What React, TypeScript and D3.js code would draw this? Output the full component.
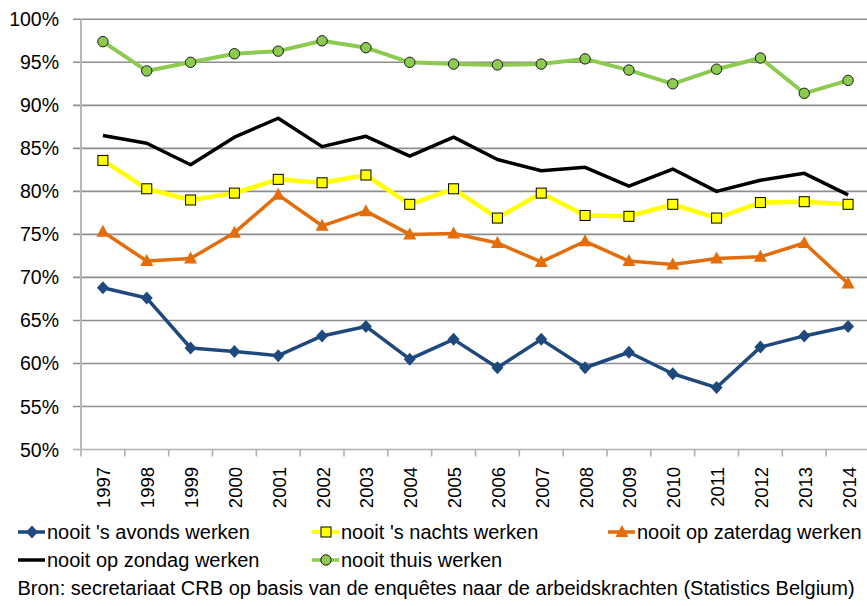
import { useEffect } from "react";
import * as d3 from "d3";

// Data
const years = [
  "1997", "1998", "1999", "2000", "2001", "2002", "2003", "2004", "2005",
  "2006", "2007", "2008", "2009", "2010", "2011", "2012", "2013", "2014",
];
const avonds = [68.8, 67.6, 61.8, 61.4, 60.9, 63.2, 64.3, 60.5, 62.8, 59.5, 62.8, 59.5, 61.3, 58.8, 57.2, 61.9, 63.2, 64.3];
const nachts = [83.6, 80.3, 79.0, 79.8, 81.4, 81.0, 81.9, 78.5, 80.3, 76.9, 79.8, 77.2, 77.1, 78.5, 76.9, 78.7, 78.8, 78.5];
const zaterdag = [75.3, 71.9, 72.2, 75.2, 79.6, 76.0, 77.7, 75.0, 75.1, 74.0, 71.8, 74.2, 71.9, 71.5, 72.2, 72.4, 74.0, 69.3];
const zondag = [86.5, 85.6, 83.1, 86.3, 88.5, 85.2, 86.4, 84.1, 86.3, 83.7, 82.4, 82.8, 80.6, 82.6, 80.0, 81.3, 82.1, 79.6];
const thuis = [97.4, 94.0, 95.0, 96.0, 96.3, 97.5, 96.7, 95.0, 94.8, 94.7, 94.8, 95.4, 94.1, 92.5, 94.2, 95.5, 91.4, 92.9];
const yTicks = [50, 55, 60, 65, 70, 75, 80, 85, 90, 95, 100];

interface Series {
  name: string;
  values: number[];
  color: string;
  width: number;
  marker: "diamond" | "square" | "triangle" | "none" | "circle";
  markerFill: string;
  markerStroke: string;
}

const series: Series[] = [
  { name: "nooit 's avonds werken", values: avonds, color: "#1F497D", width: 3.5, marker: "diamond", markerFill: "#1F497D", markerStroke: "#1F497D" },
  { name: "nooit 's nachts werken", values: nachts, color: "#FFFF00", width: 4.5, marker: "square", markerFill: "#FFFF00", markerStroke: "#000" },
  { name: "nooit op zaterdag werken", values: zaterdag, color: "#E46C0A", width: 3.5, marker: "triangle", markerFill: "#E46C0A", markerStroke: "#E46C0A" },
  { name: "nooit op zondag werken", values: zondag, color: "#000000", width: 3.5, marker: "none", markerFill: "#000", markerStroke: "#000" },
  { name: "nooit thuis werken", values: thuis, color: "#8CCB4F", width: 4, marker: "circle", markerFill: "#8CCB4F", markerStroke: "#1a1a1a" },
];

const Chart = () => {
  useEffect(() => {
    d3.select("#chart").select("svg").remove();

    const width = 867;
    const height = 606;
    const font = "'Liberation Sans', Arial, sans-serif";

    const svg = d3
      .select("#chart")
      .append("svg")
      .attr("width", width)
      .attr("height", height)
      .style("display", "block")
      .style("background", "#fff");

    const left = 81;
    const right = 870;
    const top = 19.3;
    const bottom = 449.5;

    const x = d3.scaleBand<string>().domain(years).range([left, right]);
    const y = d3.scaleLinear().domain([50, 100]).range([bottom, top]);
    const cx = (i: number) => (x(years[i]) as number) + x.bandwidth() / 2;

    // gridlines
    svg
      .append("g")
      .selectAll("line")
      .data(yTicks)
      .enter()
      .append("line")
      .attr("x1", left - 8)
      .attr("x2", width)
      .attr("y1", (d) => y(d))
      .attr("y2", (d) => y(d))
      .attr("stroke", (d) => (d === 50 ? "#b0b0b0" : "#8e8e8e"))
      .attr("stroke-width", 1.6);

    // y labels
    svg
      .append("g")
      .selectAll("text")
      .data(yTicks)
      .enter()
      .append("text")
      .attr("x", 59)
      .attr("y", (d) => y(d))
      .attr("dy", "0.36em")
      .attr("text-anchor", "end")
      .attr("font-family", font)
      .attr("font-size", 19.5)
      .attr("fill", "#000")
      .text((d) => `${d}%`);

    // y axis line
    svg
      .append("line")
      .attr("x1", left)
      .attr("x2", left)
      .attr("y1", top)
      .attr("y2", bottom)
      .attr("stroke", "#b8b8b8")
      .attr("stroke-width", 2);

    // x ticks
    const bounds = years.map((d) => x(d) as number).concat([right]);
    svg
      .append("g")
      .selectAll("line")
      .data(bounds)
      .enter()
      .append("line")
      .attr("x1", (d) => d)
      .attr("x2", (d) => d)
      .attr("y1", bottom)
      .attr("y2", bottom + 7)
      .attr("stroke", "#b0b0b0")
      .attr("stroke-width", 1.6);

    // x labels (rotated)
    svg
      .append("g")
      .selectAll("text")
      .data(years)
      .enter()
      .append("text")
      .attr("transform", (_d, i) => `translate(${cx(i) + 7.5},${467}) rotate(-90)`)
      .attr("text-anchor", "end")
      .attr("font-family", font)
      .attr("font-size", 18.5)
      .attr("fill", "#000")
      .text((d) => d);

    const line = d3
      .line<number>()
      .x((_d, i) => cx(i))
      .y((d) => y(d));

    function drawMarker(g: d3.Selection<SVGGElement, unknown, null, undefined>, s: Series, px: number, py: number) {
      if (s.marker === "diamond") {
        g.append("path")
          .attr("d", `M${px},${py - 6.5}L${px + 6},${py}L${px},${py + 6.5}L${px - 6},${py}Z`)
          .attr("fill", s.markerFill);
      } else if (s.marker === "square") {
        g.append("rect")
          .attr("x", px - 5)
          .attr("y", py - 5)
          .attr("width", 10)
          .attr("height", 10)
          .attr("fill", s.markerFill)
          .attr("stroke", s.markerStroke)
          .attr("stroke-width", 1);
      } else if (s.marker === "triangle") {
        g.append("path")
          .attr("d", `M${px},${py - 7}L${px + 6.5},${py + 5}L${px - 6.5},${py + 5}Z`)
          .attr("fill", s.markerFill);
      } else if (s.marker === "circle") {
        g.append("circle")
          .attr("cx", px)
          .attr("cy", py)
          .attr("r", 5.2)
          .attr("fill", s.markerFill)
          .attr("stroke", s.markerStroke)
          .attr("stroke-width", 1);
      }
    }

    const plot = svg.append("g");
    series.forEach((s) => {
      plot
        .append("path")
        .datum(s.values)
        .attr("d", line)
        .attr("fill", "none")
        .attr("stroke", s.color)
        .attr("stroke-width", s.width)
        .attr("stroke-linejoin", "round");
      const mg = plot.append("g");
      s.values.forEach((v, i) => drawMarker(mg, s, cx(i), y(v)));
    });

    // legend
    const legendPos = [
      [18, 532],
      [312, 532],
      [608, 532],
      [18, 560],
      [312, 560],
    ];
    const legend = svg.append("g");
    series.forEach((s, k) => {
      const [lx, ly] = legendPos[k];
      const g = legend.append("g");
      g.append("line")
        .attr("x1", lx)
        .attr("x2", lx + 27)
        .attr("y1", ly)
        .attr("y2", ly)
        .attr("stroke", s.color)
        .attr("stroke-width", 3.5);
      drawMarker(g, s, lx + 14, ly);
      g.append("text")
        .attr("x", lx + 29)
        .attr("y", ly)
        .attr("dy", "0.35em")
        .attr("font-family", font)
        .attr("font-size", 20)
        .attr("fill", "#000")
        .text(s.name);
    });

    // source
    svg
      .append("text")
      .attr("x", 436)
      .attr("y", 595)
      .attr("text-anchor", "middle")
      .attr("font-family", font)
      .attr("font-size", 20)
      .attr("fill", "#000")
      .text("Bron: secretariaat CRB op basis van de enquêtes naar de arbeidskrachten (Statistics Belgium)");
  }, []);

  return <div id="chart" style={{ position: "absolute", left: 0, top: 0 }}></div>;
};

export default function App() {
  return <Chart />;
}
